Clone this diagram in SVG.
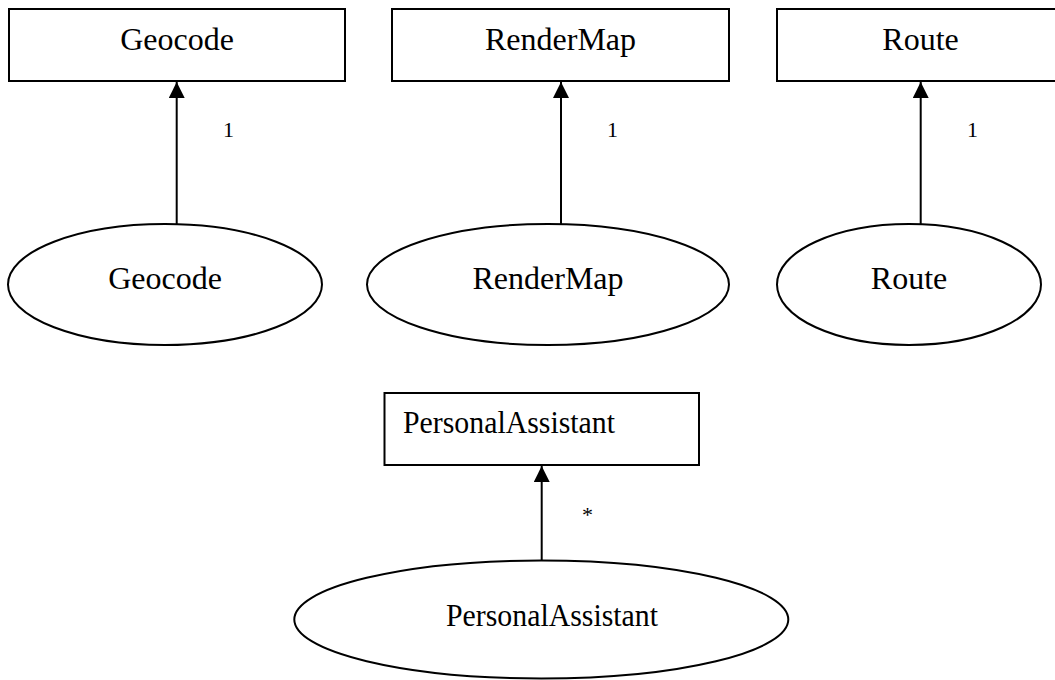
<svg xmlns="http://www.w3.org/2000/svg" width="1055" height="680" viewBox="0 0 1055 680">
<defs>
<marker id="arrow" markerUnits="userSpaceOnUse" markerWidth="16" markerHeight="17" viewBox="0 0 16 17" refX="16" refY="8" orient="auto">
<path d="M0,0 L16,8 L0,16 Z" fill="#000"/>
</marker>
<style>
.box{fill:#fff;stroke:#000;stroke-width:2}
.ell{fill:#fff;stroke:#000;stroke-width:2}
.t{font-family:"Liberation Serif","Times New Roman",serif;font-size:32px;fill:#000}
.c{text-anchor:middle}
.lbl{font-family:"Liberation Serif","Times New Roman",serif;font-size:22px;fill:#000}
.edge{stroke:#000;stroke-width:2;fill:none;marker-end:url(#arrow)}
</style>
</defs>
<rect width="1055" height="680" fill="#fff"/>
<g id="class-geocode"><rect class="box" x="9" y="9" width="336" height="72"/><text class="t c" x="177" y="50">Geocode</text></g>
<g id="class-rendermap"><rect class="box" x="392" y="9" width="337" height="72"/><text class="t c" x="560.5" y="50">RenderMap</text></g>
<g id="class-route"><rect class="box" x="777" y="9" width="287" height="72"/><text class="t c" x="920.5" y="50">Route</text></g>
<g id="class-personalassistant"><rect class="box" x="384.5" y="393" width="314.5" height="72"/><text class="t" x="403" y="433" textLength="212" lengthAdjust="spacingAndGlyphs">PersonalAssistant</text></g>
<g id="obj-geocode"><ellipse class="ell" cx="165" cy="284.5" rx="157" ry="60.5"/><text class="t c" x="165" y="289">Geocode</text></g>
<g id="obj-rendermap"><ellipse class="ell" cx="548" cy="284.5" rx="181" ry="60.5"/><text class="t c" x="548" y="289">RenderMap</text></g>
<g id="obj-route"><ellipse class="ell" cx="909" cy="284.5" rx="132" ry="60.5"/><text class="t c" x="909" y="289">Route</text></g>
<g id="obj-personalassistant"><ellipse class="ell" cx="541.3" cy="619.5" rx="247" ry="59"/><text class="t c" x="552" y="626" textLength="212" lengthAdjust="spacingAndGlyphs">PersonalAssistant</text></g>
<g id="connectors">
<line class="edge" x1="176.7" y1="224" x2="176.7" y2="82"/>
<line class="edge" x1="561" y1="224" x2="561" y2="82"/>
<line class="edge" x1="920.7" y1="224" x2="920.7" y2="82"/>
<line class="edge" x1="541.7" y1="560.5" x2="541.7" y2="466"/>
<text class="lbl" x="223" y="137">1</text>
<text class="lbl" x="607" y="137">1</text>
<text class="lbl" x="967" y="137">1</text>
<text class="lbl" x="582" y="522">*</text>
</g>
</svg>
